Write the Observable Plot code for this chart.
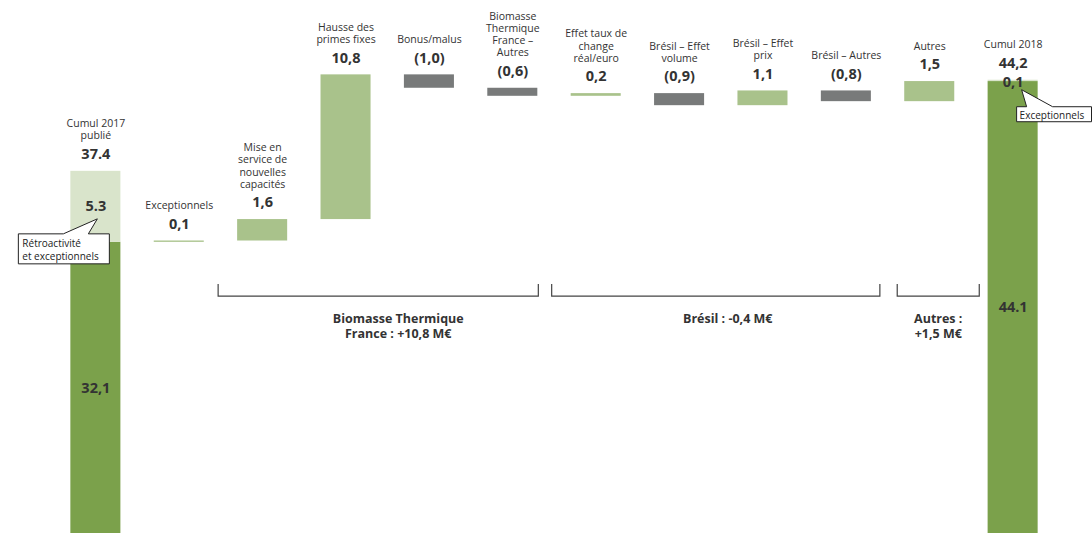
<!DOCTYPE html>
<html><head><meta charset="utf-8">
<script src="https://cdn.jsdelivr.net/npm/d3@7"></script>
<script src="https://cdn.jsdelivr.net/npm/@observablehq/plot@0.6"></script>
<style>body{margin:0;background:#fff;font-family:"Open Sans",sans-serif}svg{display:block}</style>
</head><body><div id="chart"></div>
<script>
// ---- data ----
const categories = ["Cumul 2017\npublié", "Exceptionnels", "Mise en\nservice de\nnouvelles\ncapacités", "Hausse des\nprimes fixes", "Bonus/malus", "Biomasse\nThermique\nFrance –\nAutres", "Effet taux de\nchange\nréal/euro", "Brésil – Effet\nvolume", "Brésil – Effet\nprix", "Brésil – Autres", "Autres", "Cumul 2018"];
const deltas = [null, 0.1, 1.6, 10.8, -1.0, -0.6, 0.2, -0.9, 1.1, -0.8, 1.5, null];
const base2017 = 32.1, retro2017 = 5.3;
const base2018 = 44.1, excep2018 = 0.1;
const valueLabels = ["37.4", "0,1", "1,6", "10,8", "(1,0)", "(0,6)", "0,2", "(0,9)", "1,1", "(0,8)", "1,5", "44,2"];
const innerLabels2017 = ["32,1", "5.3"];
const innerLabels2018 = ["44.1", "0,1"];
const groups = [
  {from: 2, to: 5, label: "Biomasse Thermique\nFrance : +10,8 M€"},
  {from: 6, to: 9, label: "Brésil : -0,4 M€"},
  {from: 10, to: 10, label: "Autres :\n+1,5 M€"}
];
const calloutTexts = ["Rétroactivité\net exceptionnels", "Exceptionnels"];

// ---- style ----
const C = {dark: "#7ba14b", light: "#a9c28b", pale: "#d9e4cb", neg: "#787a7a", text: "#333", line: "#444"};
const yDomain = [10.37, 50.15];

// ---- build rows ----
const bars = [], tops = [], inner = [];
let run = base2017;
bars.push({cat: categories[0], y1: 0, y2: base2017, fill: C.dark});
bars.push({cat: categories[0], y1: base2017, y2: base2017 + retro2017, fill: C.pale});
tops.push({cat: categories[0], top: base2017 + retro2017, v: valueLabels[0]});
inner.push({cat: categories[0], y: (yDomain[0] + base2017) / 2, t: innerLabels2017[0]});
inner.push({cat: categories[0], y: base2017 + retro2017 / 2, t: innerLabels2017[1]});
for (let i = 1; i < categories.length - 1; i++) {
  const d = deltas[i];
  bars.push({cat: categories[i], y1: run, y2: run + d, fill: d > 0 ? C.light : C.neg});
  tops.push({cat: categories[i], top: Math.max(run, run + d), v: valueLabels[i]});
  run += d;
}
const last = categories[categories.length - 1];
bars.push({cat: last, y1: 0, y2: base2018, fill: C.dark});
bars.push({cat: last, y1: base2018, y2: base2018 + excep2018, fill: C.pale});
tops.push({cat: last, top: base2018 + excep2018, v: valueLabels[11]});
inner.push({cat: last, y: (yDomain[0] + base2018) / 2, t: innerLabels2018[0]});

const chart = Plot.plot({
  width: 1092, height: 533,
  marginLeft: 37, marginRight: 21, marginTop: 0, marginBottom: 0,
  style: {fontFamily: "Open Sans, sans-serif", background: "#fff"},
  x: {domain: categories, padding: 0.4, round: false, axis: null},
  y: {domain: yDomain, axis: null},
  marks: [
    Plot.barY(bars, {x: "cat", y1: "y1", y2: "y2", fill: "fill", clip: true}),
    Plot.text(tops, {x: "cat", y: "top", text: "v", dy: -17, fontSize: 14.5, fontWeight: 700, fill: C.text}),
    Plot.text(tops, {x: "cat", y: "top", text: "cat", dy: -32, lineAnchor: "bottom", fontSize: 10.5, lineHeight: 1.15, fill: C.text}),
    Plot.text(inner, {x: "cat", y: "y", text: "t", fontSize: 14.5, fontWeight: 700, fill: C.text}),
    Plot.text([{cat: last, y: base2018 + excep2018}], {x: "cat", y: "y", text: () => innerLabels2018[1], dy: 2, fontSize: 14.5, fontWeight: 700, fill: C.text})
  ]
});
document.getElementById("chart").appendChild(chart);

// ---- annotations: brackets & callouts, placed through the plot's scales ----
const sx = chart.scale("x"), sy = chart.scale("y");
const bw = sx.bandwidth;
const svg = d3.select(chart);
const g = svg.append("g");
const bracketOffsets = [[-19, 1, 20], [-19, 9, 12], [-7, 25, 0]];
const bracketY = sy.apply(28.05);
groups.forEach((gr, k) => {
  const [ol, or, ot] = bracketOffsets[k];
  const x0 = sx.apply(categories[gr.from]) + ol;
  const x1 = sx.apply(categories[gr.to]) + bw + or;
  g.append("path").attr("d", `M${x0},${bracketY - 12}V${bracketY}H${x1}V${bracketY - 12}`)
    .attr("fill", "none").attr("stroke", C.line).attr("stroke-width", 1.2);
  const t = g.append("text").attr("text-anchor", "middle").attr("font-size", 12.5).attr("font-weight", 700).attr("fill", C.text);
  gr.label.split("\n").forEach((line, j) => {
    t.append("tspan").attr("x", (x0 + x1) / 2 + ot).attr("y", bracketY + 27 + j * 15).text(line);
  });
});

function callout(path, tx, ty, lines) {
  g.append("path").attr("d", path).attr("fill", "#fff").attr("stroke", "#222").attr("stroke-width", 1);
  const t = g.append("text").attr("text-anchor", "start").attr("font-size", 10).attr("fill", "#222");
  lines.forEach((line, j) => t.append("tspan").attr("x", tx).attr("y", ty + j * 13).text(line));
}
{
  const bx = sx.apply(categories[0]);
  const by = sy.apply(base2017);
  const top = by - 8, bot = by + 22;
  callout(`M${bx - 52},${top}H${bx - 7}L${bx + 27},${top - 15}L${bx + 18},${top}H${bx + 39}V${bot}H${bx - 52}Z`, bx - 48, top + 13, calloutTexts[0].split("\n"));
}
{
  const bx = sx.apply(last);
  const by = sy.apply(base2018 + excep2018);
  const top = by + 27, bot = by + 42;
  callout(`M${bx + 29},${top}H${bx + 39}L${bx + 34},${top - 17}L${bx + 65},${top}H${1091.5}V${bot}H${bx + 29}Z`, bx + 32, top + 12, [calloutTexts[1]]);
}
</script></body></html>
